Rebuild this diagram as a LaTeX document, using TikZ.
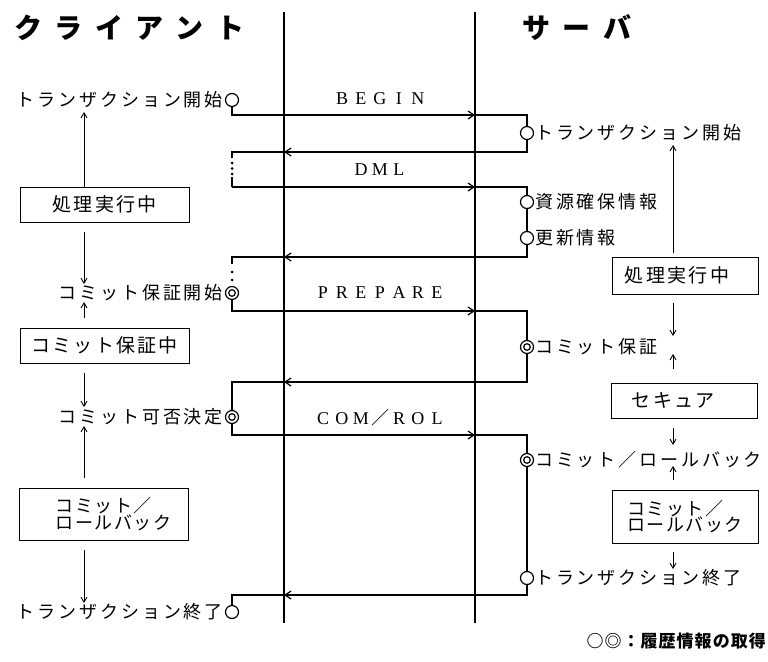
\documentclass[tikz,border=0pt]{standalone}
\usepackage{fontspec}
\setmainfont{Liberation Serif}
\newfontfamily\jplbl[LetterSpace=16]{Noto Sans CJK JP}
\newfontfamily\jpbox[LetterSpace=12]{Noto Sans CJK JP}
\newfontfamily\jptwo[LetterSpace=8]{Noto Sans CJK JP}
\newfontfamily\jpleg[LetterSpace=6]{Noto Sans CJK JP}
\newfontfamily\jptitle[LetterSpace=45]{Noto Sans CJK JP}
\newfontfamily\jpplain{Noto Sans CJK JP}
\usetikzlibrary{arrows.meta}
\newcommand\mch[1]{\makebox[19pt]{#1}}
\begin{document}
\begin{tikzpicture}[x=1pt,y=-1pt,
  life/.style={line width=1.1pt},
  seq/.style={line width=1.6pt},
  seqarr/.style={seq,-{Straight Barb[length=6pt,width=8pt,line width=1.2pt]}},
  side/.style={line width=0.9pt,-{Straight Barb[length=5pt,width=6pt]}},
  ev/.style={draw,circle,line width=1.2pt,minimum size=13pt,inner sep=0pt,fill=white},
  dbl/.style={path picture={\draw[line width=1.2pt] (path picture bounding box.center) circle (3.3pt);}},
  lbl/.style={inner sep=0pt,font=\jplbl\fontsize{18}{18}\selectfont},
  box/.style={draw,line width=0.8pt,minimum width=169pt,minimum height=35pt,inner sep=0pt,font=\jpbox\fontsize{19}{19}\selectfont},
  twol/.style={align=left,font=\jptwo\fontsize{18}{16.5}\selectfont},
  msgl/.style={inner sep=0pt,font=\fontsize{18}{18}\selectfont},
  ttl/.style={inner sep=0pt,font=\jptitle\bfseries\fontsize{28}{28}\selectfont},
  dotm/.style={fill,circle,inner sep=0pt,minimum size=3pt}
]
\fill[white] (0,0) rectangle (768,661);
\useasboundingbox (0,0) rectangle (768,661);

% titles
\node[ttl,anchor=west] (tclient) at (14,28) {クライアント};
\node[ttl,anchor=west] (tserver) at (522,28) {サーバ};

% lifelines
\coordinate (ctop) at (284,12); \coordinate (cbot) at (284,623);
\coordinate (stop) at (475,12); \coordinate (sbot) at (475,623);
\draw[life] (ctop) -- (cbot);
\draw[life] (stop) -- (sbot);

% events
\node[ev] (c1) at (232,100) {};
\node[ev] (s1) at (527,133) {};
\node[ev] (s2) at (527,202) {};
\node[ev] (s3) at (527,238) {};
\node[ev,dbl] (c2) at (232,293) {};
\node[ev,dbl] (s4) at (527,347) {};
\node[ev,dbl] (c3) at (232,417) {};
\node[ev,dbl] (s5) at (527,460) {};
\node[ev] (s6) at (527,578) {};
\node[ev] (c4) at (232,612) {};

% event labels
\node[lbl,anchor=east] (c1t) at (223,100) {トランザクション開始};
\node[lbl,anchor=east] (c2t) at (223,293) {コミット保証開始};
\node[lbl,anchor=east] (c3t) at (223,417) {コミット可否決定};
\node[lbl,anchor=east] (c4t) at (223,612) {トランザクション終了};
\node[lbl,anchor=west] (s1t) at (535,133) {トランザクション開始};
\node[lbl,anchor=west] (s2t) at (535,202) {資源確保情報};
\node[lbl,anchor=west] (s3t) at (535,238) {更新情報};
\node[lbl,anchor=west] (s4t) at (535,347) {コミット保証};
\node[lbl,anchor=west] (s5t) at (535,460) {コミット／ロールバック};
\node[lbl,anchor=west] (s6t) at (535,578) {トランザクション終了};

% message corner points on lifelines
\coordinate (m1) at (475,115);
\coordinate (m2) at (284,152);
\coordinate (m3) at (475,187);
\coordinate (m4) at (284,257);
\coordinate (m5) at (475,311);
\coordinate (m6) at (284,382);
\coordinate (m7) at (475,435);
\coordinate (m8) at (284,595);
\coordinate (k1) at (232,158);
\coordinate (k2) at (232,177);
\coordinate (k3) at (232,264);

% messages
\draw[seqarr] (c1.south) |- (m1);
\draw[seq] (m1) -| (s1.north);
\draw[seqarr] (s1.south) |- (m2);
\draw[seq] (m2) -| (k1);
\node[dotm] (d1) at (232,163) {};
\node[dotm] (d2) at (232,168.5) {};
\node[dotm] (d3) at (232,174) {};
\draw[seq] (k2) -- (k2 |- m3);
\draw[seqarr] (k2 |- m3) -- (m3);
\draw[seq] (m3) -| (s2.north);
\draw[seq] (s2.south) -- (s3.north);
\draw[seqarr] (s3.south) |- (m4);
\draw[seq] (m4) -| (k3);
\node[dotm] (d4) at (232,272) {};
\node[dotm] (d5) at (232,280) {};
\draw[seqarr] (c2.south) |- (m5);
\draw[seq] (m5) -| (s4.north);
\draw[seqarr] (s4.south) |- (m6);
\draw[seq] (m6) -| (c3.north);
\draw[seqarr] (c3.south) |- (m7);
\draw[seq] (m7) -| (s5.north);
\draw[seq] (s5.south) -- (s6.north);
\draw[seqarr] (s6.south) |- (m8);
\draw[seq] (m8) -| (c4.north);

% message labels
\node[msgl] (lbegin) at (380,99) {\mch{B}\mch{E}\mch{G}\mch{I}\mch{N}};
\node[msgl] (ldml) at (380,170) {\mch{D}\mch{M}\mch{L}};
\node[msgl] (lprep) at (380,293) {\mch{P}\mch{R}\mch{E}\mch{P}\mch{A}\mch{R}\mch{E}};
\node[msgl] (lcom) at (380,418) {\mch{C}\mch{O}\mch{M}\mch{{\jpplain ／}}\mch{R}\mch{O}\mch{L}};

% client state boxes
\node[box] (cb1) at (104.5,204.5) {処理実行中};
\node[box] (cb2) at (104.5,345.5) {コミット保証中};
\node[box,minimum height=52pt,twol] (cb3) at (103.5,514) {\hspace*{20pt}コミット／\\\hspace*{20pt}ロールバック};

% server state boxes
\node[box,minimum width=146pt,minimum height=37pt] (sb1) at (685,275.5) {処理実行中\kern16pt};
\node[box,minimum width=146pt] (sb2) at (684,400.5) {セキュア\kern22pt};
\node[box,minimum width=146pt,minimum height=53pt,twol] (sb3) at (685,516.5) {コミット／\\ロールバック};

% client side arrows
\coordinate (ax) at (84,0);
\draw[side] (cb1.north -| ax) -- (84,112);
\draw[side] ([yshift=-10pt]cb1.south -| ax) -- (84,284);
\draw[side] ([yshift=10pt]cb2.north -| ax) -- (84,302);
\draw[side] ([yshift=-10pt]cb2.south -| ax) -- (84,407);
\draw[side] ([yshift=10pt]cb3.north -| ax) -- (84,426);
\draw[side] ([yshift=-10pt]cb3.south -| ax) -- (84,603);

% server side arrows
\coordinate (bx) at (673,0);
\draw[side] ([yshift=4pt]sb1.north -| bx) -- (673,145);
\draw[side] ([yshift=-9pt]sb1.south -| bx) -- (673,336);
\draw[side] ([yshift=14pt]sb2.north -| bx) -- (673,354);
\draw[side] ([yshift=-10pt]sb2.south -| bx) -- (673,445);
\draw[side] ([yshift=10pt]sb3.north -| bx) -- (673,466);
\draw[side] ([yshift=-9pt]sb3.south -| bx) -- (673,569);

% legend
\node[inner sep=0pt,anchor=east,font=\jpleg\bfseries\fontsize{17}{17}\selectfont] (legend) at (766,641) {○◎：履歴情報の取得};
\end{tikzpicture}
\end{document}
